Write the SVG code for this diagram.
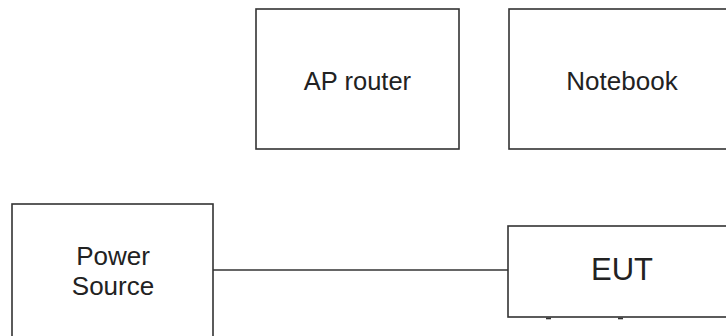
<svg xmlns="http://www.w3.org/2000/svg" width="726" height="336" viewBox="0 0 726 336">
<style>
.box{fill:#fff;stroke:#333;stroke-width:1.6}
.t{font-family:"Liberation Sans",Arial,sans-serif;fill:#222;text-anchor:middle}
.c{stroke:#333;stroke-width:1.6;fill:none}
</style>
<rect width="726" height="336" fill="#fff"/>
<g id="ap-router">
<rect class="box" x="256" y="9" width="203" height="140"/>
<text class="t" x="357.5" y="90" font-size="25.5">AP router</text>
</g>
<g id="notebook">
<rect class="box" x="509" y="9" width="226" height="140"/>
<text class="t" x="622" y="90" font-size="26">Notebook</text>
</g>
<g id="power-source">
<rect class="box" x="12" y="204" width="201" height="140"/>
<text class="t" x="113" y="265" font-size="26">Power</text>
<text class="t" x="113" y="295" font-size="26">Source</text>
</g>
<g id="eut">
<rect class="box" x="508" y="226" width="227" height="91"/>
<text class="t" x="622" y="280" font-size="31">EUT</text>
<line class="c" x1="546" y1="318.5" x2="551" y2="318.5" stroke-width="2"/>
<line class="c" x1="618" y1="318.5" x2="623" y2="318.5" stroke-width="2"/>
</g>
<g id="connectors">
<line class="c" x1="213" y1="270" x2="508" y2="270"/>
</g>
</svg>
